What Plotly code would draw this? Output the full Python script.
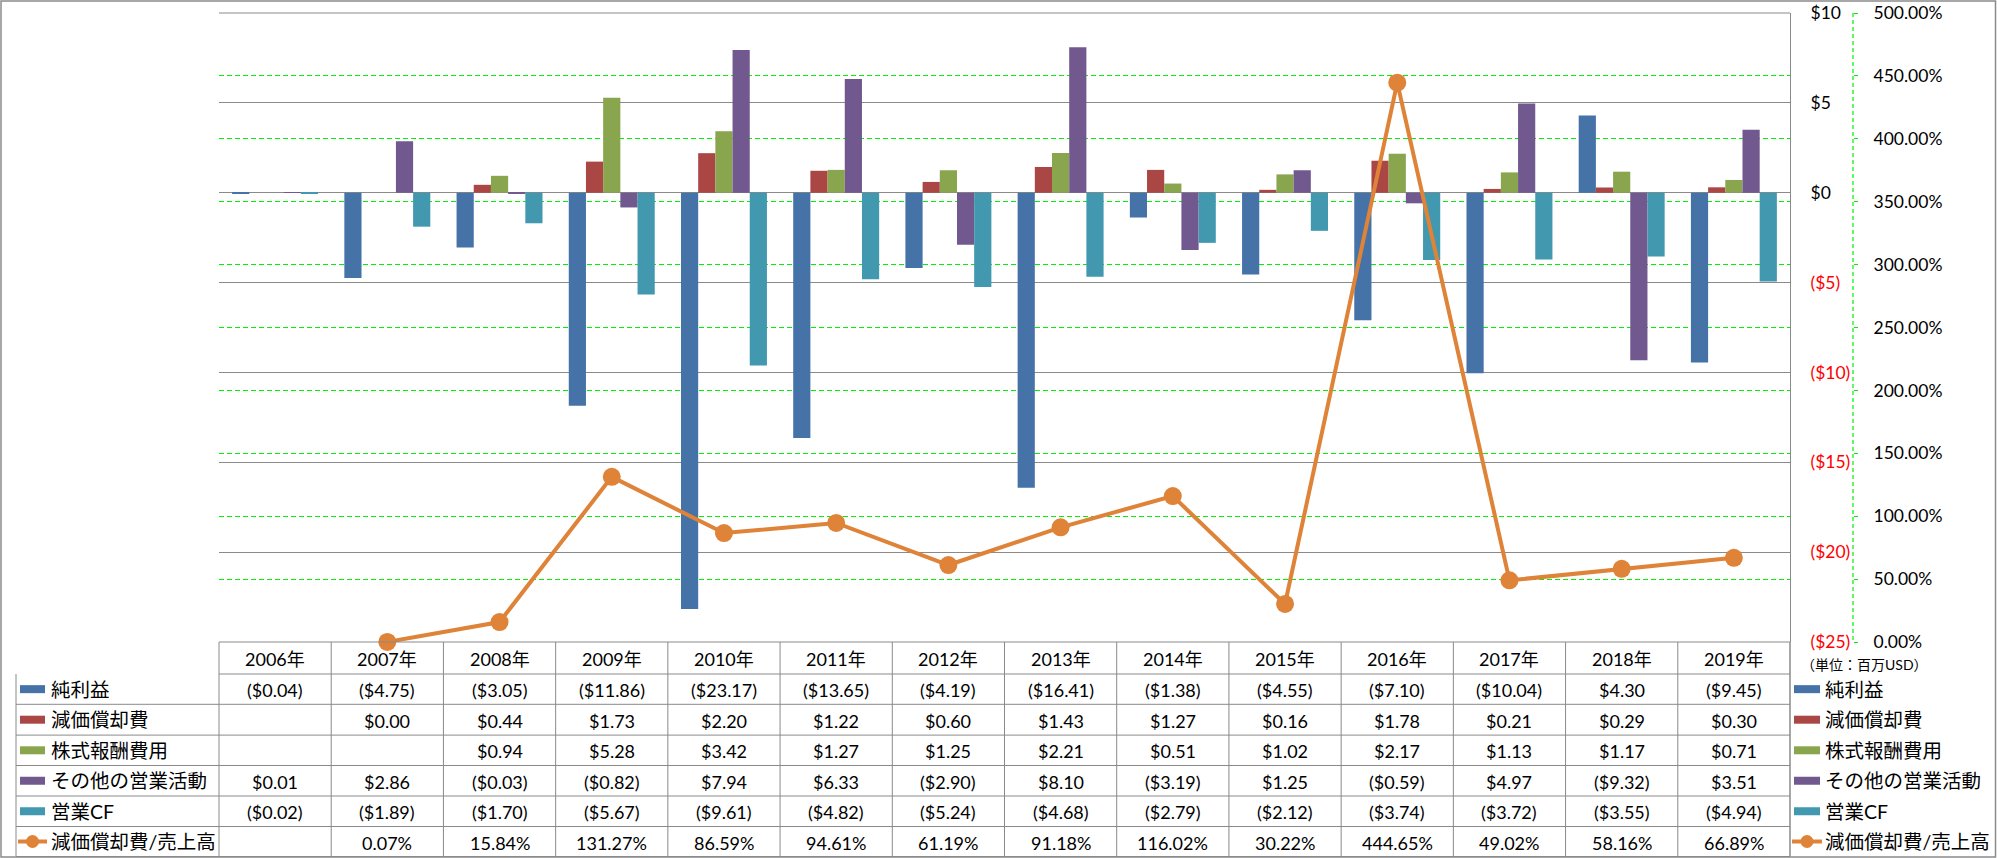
import plotly.graph_objects as go

# ---------------- data ----------------
years = ["2006年", "2007年", "2008年", "2009年", "2010年", "2011年", "2012年",
         "2013年", "2014年", "2015年", "2016年", "2017年", "2018年", "2019年"]
net_income = [-0.04, -4.75, -3.05, -11.86, -23.17, -13.65, -4.19,
              -16.41, -1.38, -4.55, -7.10, -10.04, 4.30, -9.45]
depreciation = [None, 0.00, 0.44, 1.73, 2.20, 1.22, 0.60,
                1.43, 1.27, 0.16, 1.78, 0.21, 0.29, 0.30]
stock_comp = [None, None, 0.94, 5.28, 3.42, 1.27, 1.25,
              2.21, 0.51, 1.02, 2.17, 1.13, 1.17, 0.71]
other_ops = [0.01, 2.86, -0.03, -0.82, 7.94, 6.33, -2.90,
             8.10, -3.19, 1.25, -0.59, 4.97, -9.32, 3.51]
op_cf = [-0.02, -1.89, -1.70, -5.67, -9.61, -4.82, -5.24,
         -4.68, -2.79, -2.12, -3.74, -3.72, -3.55, -4.94]
dep_ratio = [None, 0.0007, 0.1584, 1.3127, 0.8659, 0.9461, 0.6119,
             0.9118, 1.1602, 0.3022, 4.4465, 0.4902, 0.5816, 0.6689]

bar_names = ["純利益", "減価償却費", "株式報酬費用", "その他の営業活動", "営業CF"]
line_name = "減価償却費/売上高"
y_ticks = [-25, -20, -15, -10, -5, 0, 5, 10]
y2_ticks = [0, 0.5, 1, 1.5, 2, 2.5, 3, 3.5, 4, 4.5, 5]
unit_label = "（単位：百万USD）"

# ---------------- style ----------------
bar_series = [net_income, depreciation, stock_comp, other_ops, op_cf]
bar_colors = ["#4572A7", "#AA4643", "#89A54E", "#71588F", "#4198AF"]
orange = "#DE8338"
gray = "#8A8A8A"
green = "#00F000"
FONT = "Lato, 'Noto Sans CJK JP', sans-serif"

W, H = 1997, 858
L, R, T, B = 219, 1790, 13, 642


def px(x):
    return x / W


def py(y):
    return 1 - y / H


def usd(v):
    if v is None:
        return ""
    return f"(${-v:.2f})" if v < 0 else f"${v:.2f}"


def usd_tick(v):
    if v < 0:
        return f"<span style='color:#FF0000'>(${-v})</span>"
    return f"${v}"


fig = go.Figure()
for name, vals, col in zip(bar_names, bar_series, bar_colors):
    fig.add_trace(go.Bar(x=years, y=vals, name=name, marker=dict(color=col, line=dict(width=0))))

fig.add_trace(go.Scatter(x=years, y=dep_ratio, name=line_name, yaxis="y2",
                         mode="lines+markers", connectgaps=False, cliponaxis=False,
                         line=dict(color=orange, width=4),
                         marker=dict(color=orange, size=18)))

shapes = []
annotations = []

# ---------------- table ----------------
ncol = len(years)
col_w = (R - L) / ncol
header_top, header_bot = 642, 674
row_edges = [674, 704.3, 735.1, 765.5, 796, 826.5, 856.5]


def hline(x0, x1, y, color=gray, width=1):
    shapes.append(dict(type="line", xref="paper", yref="paper", x0=px(x0), x1=px(x1),
                       y0=py(y), y1=py(y), line=dict(color=color, width=width)))


def vline(x, y0, y1, color=gray, width=1, dash=None):
    ln = dict(color=color, width=width)
    if dash:
        ln["dash"] = dash
    shapes.append(dict(type="line", xref="paper", yref="paper", x0=px(x), x1=px(x),
                       y0=py(y0), y1=py(y1), line=ln))


def text(x, y, s, size=18, anchor="center", color="#000000"):
    annotations.append(dict(x=px(x), y=py(y), xref="paper", yref="paper", text=s,
                            showarrow=False, xanchor=anchor, yanchor="middle",
                            font=dict(family=FONT, size=size, color=color)))


# outer border
shapes.append(dict(type="rect", xref="paper", yref="paper", x0=px(1), x1=px(1995.5),
                   y0=py(1), y1=py(857), line=dict(color=gray, width=1.5)))

# top line of plot area & table grid
hline(L, R, T)
hline(L, R, header_top)
hline(L, R, header_bot)
for yy in row_edges[1:]:
    hline(16, R, yy)
for i in range(ncol + 1):
    vline(L + i * col_w, header_top, row_edges[-1])
vline(16, header_bot, row_edges[-1])
vline(R, header_top, row_edges[-1])

# header texts
for i, yr in enumerate(years):
    text(L + (i + 0.5) * col_w, (header_top + header_bot) / 2 + 1, yr, size=18)

# body cells
table_rows = [[usd(v) for v in s] for s in bar_series] + \
             [["" if v is None else f"{v * 100:.2f}%" for v in dep_ratio]]
row_labels = bar_names + [line_name]
for r, cells in enumerate(table_rows):
    yc = (row_edges[r] + row_edges[r + 1]) / 2
    for i, s in enumerate(cells):
        if s:
            text(L + (i + 0.5) * col_w, yc + 1, s, size=18)

# legend keys (left inside table, and right side)
for r, lab in enumerate(row_labels):
    yc = (row_edges[r] + row_edges[r + 1]) / 2
    for (sx0, sx1, tx) in [(20, 45, 49), (1794, 1820, 1823)]:
        if r < len(bar_names):
            shapes.append(dict(type="rect", xref="paper", yref="paper",
                               x0=px(sx0), x1=px(sx1), y0=py(yc - 4), y1=py(yc + 4),
                               fillcolor=bar_colors[r], line=dict(width=0)))
        else:
            hline(sx0 - 2, sx1 + 2, yc, color=orange, width=4)
            cx = (sx0 + sx1) / 2
            rr = 6.5
            shapes.append(dict(type="circle", xref="paper", yref="paper",
                               x0=px(cx - rr), x1=px(cx + rr), y0=py(yc - rr), y1=py(yc + rr),
                               fillcolor=orange, line=dict(width=0)))
        text(tx, yc, lab, size=19.5, anchor="left")

# unit label
text(1864, 664, unit_label, size=14)

# secondary axis dashed line
vline(1853, T, B, color=green, width=1.2, dash="4px,3px")

fig.update_layout(
    margin=dict(l=0, r=0, t=0, b=0, pad=0, autoexpand=False),
    paper_bgcolor="white", plot_bgcolor="white",
    showlegend=False,
    barmode="group", bargap=0.234, bargroupgap=0,
    font=dict(family=FONT, size=18, color="#000000"),
    xaxis=dict(domain=[px(L), px(R)], type="category", range=[-0.5, ncol - 0.5],
               automargin=False,
               showticklabels=False, showgrid=False, zeroline=False, showline=False, ticks=""),
    yaxis=dict(domain=[py(B), py(T)], range=[-25, 10], side="right", automargin=False,
               tickvals=y_ticks, ticktext=[usd_tick(v) for v in y_ticks],
               tickfont=dict(family=FONT, size=17.5, color="#000000"),
               showgrid=True, gridcolor=gray, gridwidth=1,
               zeroline=True, zerolinecolor=gray, zerolinewidth=1,
               showline=True, linecolor=gray, linewidth=1, ticks="",
               ticklabelstandoff=16),
    yaxis2=dict(overlaying="y", side="right", anchor="free", position=px(1853),
                automargin=False,
                range=[0, 5], tickvals=y2_ticks, tickformat=".2%",
                tickfont=dict(family=FONT, size=17.5, color="#000000"),
                showgrid=True, gridcolor=green, gridwidth=1.2, griddash="5px,3px",
                zeroline=False, showline=False,
                ticks="outside", ticklen=4, tickcolor=green, tickwidth=1,
                ticklabelstandoff=12),
    shapes=shapes,
    annotations=annotations,
)

# the div is pinned to the window's top-left corner, out of the body's 8px margin
fig.write_html("out.html", config={"displayModeBar": False},
               default_width=f"{W}px",
               default_height=f"{H}px; position:absolute; left:0px; top:0px")
